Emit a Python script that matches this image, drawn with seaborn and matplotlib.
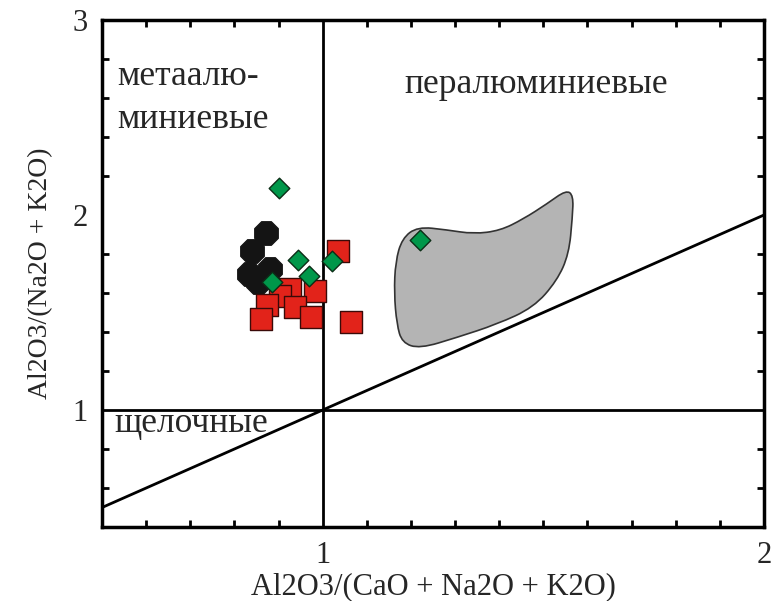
import numpy as np
import pandas as pd
import matplotlib
matplotlib.use("Agg")
import matplotlib.pyplot as plt
import seaborn as sns
from matplotlib.patches import PathPatch
from matplotlib.path import Path
from matplotlib.ticker import MultipleLocator, FixedLocator

# =====================================
# DATA
# =====================================
black_x = [0.872, 0.839, 0.880, 0.834, 0.853]
black_y = [1.908, 1.814, 1.723, 1.698, 1.655]

red_x = [1.035, 0.982, 0.925, 0.904, 0.873, 0.938, 0.973, 0.861, 1.065]
red_y = [1.817, 1.612, 1.620, 1.586, 1.540, 1.526, 1.475, 1.466, 1.449]

green_x = [0.902, 0.945, 0.968, 1.022, 0.886, 1.220]
green_y = [2.136, 1.771, 1.689, 1.762, 1.655, 1.874]

# outline (control points) of the grey field
field_x = [1.215, 1.281, 1.342, 1.402, 1.455, 1.508, 1.552, 1.568,
           1.566, 1.558, 1.531, 1.478, 1.395, 1.304, 1.220, 1.180,
           1.168, 1.162, 1.165, 1.180]
field_y = [1.940, 1.924, 1.903, 1.920, 1.980, 2.057, 2.128, 2.100,
           1.989, 1.800, 1.663, 1.526, 1.440, 1.372, 1.315, 1.345,
           1.440, 1.600, 1.760, 1.880]

x_ticks = [1, 2]
y_ticks = [1, 2, 3]

# =====================================
# STYLE
# =====================================
sns.set_style("ticks")
plt.rcParams["font.family"] = ["Liberation Serif", "DejaVu Serif"]

fig = plt.figure(figsize=(7.74, 6.01), dpi=100)
ax = fig.add_axes([0.1318, 0.1231, 0.987 - 0.1318, 0.9667 - 0.1231])

# grey field as a smooth closed curve through the outline
pts = np.column_stack([field_x, field_y])
mids = (pts + np.roll(pts, -1, axis=0)) / 2
verts = [mids[-1]]
codes = [Path.MOVETO]
for i in range(len(pts)):
    verts += [pts[i], mids[i]]
    codes += [Path.CURVE3, Path.CURVE3]
verts.append(mids[-1])
codes.append(Path.CLOSEPOLY)
ax.add_patch(PathPatch(Path(verts, codes), facecolor="#b4b4b4",
                       edgecolor="#333333", lw=1.2, zorder=1))

# dividing lines
ax.axvline(1, color="black", lw=2, zorder=2)
ax.axhline(1, color="black", lw=2, zorder=2)
ax.plot([0.5, 2], [0.5, 2], color="black", lw=2, zorder=2)

# points
sns.scatterplot(x=black_x, y=black_y, marker="8", s=340, color="#141414",
                edgecolor="#141414", linewidth=0.8, ax=ax, zorder=3)
sns.scatterplot(x=red_x, y=red_y, marker="s", s=230, color="#e2231a",
                edgecolor="#3a0a08", linewidth=1.0, ax=ax, zorder=4)
sns.scatterplot(x=green_x, y=green_y, marker="D", s=110, color="#00974a",
                edgecolor="#0b2d16", linewidth=1.0, ax=ax, zorder=5)

# region labels
ax.text(0.534, 2.71, "метаалю-", fontsize=25.5, va="center", ha="left")
ax.text(0.534, 2.49, "миниевые", fontsize=25.5, va="center", ha="left")
ax.text(1.186, 2.67, "пералюминиевые", fontsize=25.5, va="center", ha="left")
ax.text(0.527, 0.93, "щелочные", fontsize=25.5, va="center", ha="left")

# axes
ax.set_xlim(0.5, 2)
ax.set_ylim(0.4, 3)
ax.xaxis.set_major_locator(FixedLocator(x_ticks))
ax.yaxis.set_major_locator(FixedLocator(y_ticks))
ax.xaxis.set_minor_locator(MultipleLocator(0.1))
ax.yaxis.set_minor_locator(MultipleLocator(0.2))
ax.tick_params(which="both", direction="in", top=True, right=True,
               width=2, color="black")
ax.tick_params(which="major", length=0, labelsize=22, pad=10)
ax.tick_params(which="minor", length=5)

for s in ax.spines.values():
    s.set_linewidth(2.5)
    s.set_color("black")

ax.set_xlabel("Al2O3/(CaO + Na2O + K2O)", fontsize=22, labelpad=2)
ax.set_ylabel("Al2O3/(Na2O + K2O)", fontsize=20, labelpad=14)

fig.savefig("out.png", dpi=100)
